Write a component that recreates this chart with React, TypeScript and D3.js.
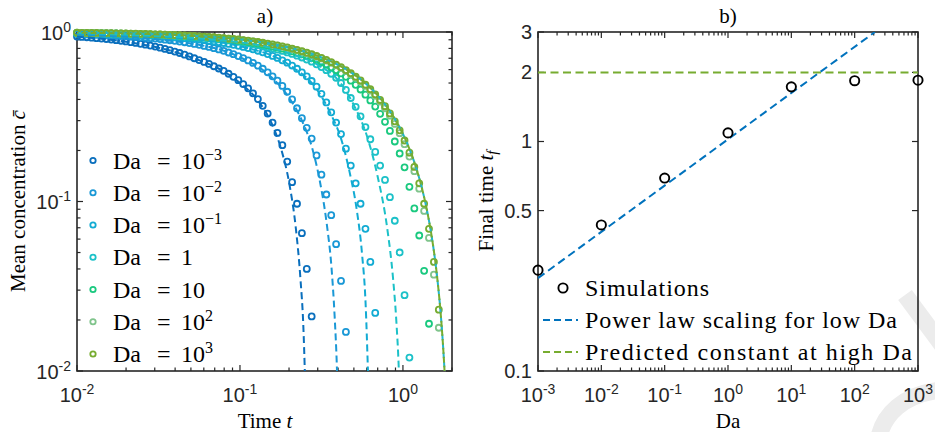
import { useEffect, useRef } from 'react';
import * as d3 from 'd3';

// panel a) sample times shared by the simulation runs
const timeSamples = [
  0.01, 0.01072, 0.01148, 0.0123, 0.01318, 0.01413, 0.01514, 0.01622, 0.01738, 0.01862,
  0.01995, 0.02138, 0.02291, 0.02455, 0.0263, 0.02818, 0.0302, 0.03236, 0.03467, 0.03715,
  0.03981, 0.04266, 0.04571, 0.04898, 0.05248, 0.05623, 0.06026, 0.06457, 0.06918, 0.07413,
  0.07943, 0.08511, 0.0912, 0.09772, 0.1047, 0.1122, 0.1202, 0.1288, 0.138, 0.1479,
  0.1585, 0.1698, 0.182, 0.195, 0.2089, 0.2239, 0.2399, 0.257, 0.2754, 0.2951,
  0.3162, 0.3388, 0.3631, 0.389, 0.4169, 0.4467, 0.4786, 0.5129, 0.5495, 0.5888,
  0.631, 0.6761, 0.7244, 0.7762, 0.8318, 0.8913, 0.955, 1.023, 1.096, 1.175,
  1.259, 1.349, 1.445, 1.549, 1.66,
];

// mean concentration for each Da (same index as timeSamples)
const concDa1em3 = [
  0.94, 0.935, 0.931, 0.926, 0.92, 0.915, 0.909, 0.902, 0.895, 0.888,
  0.88, 0.871, 0.862, 0.852, 0.842, 0.832, 0.82, 0.808, 0.795, 0.781,
  0.767, 0.752, 0.735, 0.718, 0.7, 0.683, 0.666, 0.648, 0.628, 0.609,
  0.59, 0.567, 0.544, 0.52, 0.493, 0.465, 0.435, 0.402, 0.367, 0.33,
  0.292, 0.254, 0.215, 0.172, 0.13, 0.097, 0.065, 0.04, 0.021,
];
const concDa1em2 = [
  0.972, 0.969, 0.967, 0.965, 0.962, 0.96, 0.957, 0.954, 0.95, 0.947,
  0.943, 0.939, 0.935, 0.93, 0.925, 0.92, 0.914, 0.908, 0.901, 0.894,
  0.887, 0.878, 0.87, 0.86, 0.85, 0.84, 0.828, 0.816, 0.803, 0.789,
  0.774, 0.757, 0.74, 0.721, 0.702, 0.68, 0.657, 0.633, 0.607, 0.578,
  0.548, 0.516, 0.481, 0.444, 0.4, 0.355, 0.31, 0.272, 0.235, 0.187,
  0.144, 0.11, 0.083, 0.056, 0.034, 0.017,
];
const concDa1em1 = [
  0.983, 0.981, 0.98, 0.978, 0.977, 0.975, 0.974, 0.972, 0.97, 0.967,
  0.965, 0.963, 0.96, 0.957, 0.954, 0.951, 0.947, 0.943, 0.939, 0.935,
  0.93, 0.925, 0.92, 0.914, 0.908, 0.902, 0.895, 0.887, 0.879, 0.87,
  0.861, 0.851, 0.84, 0.829, 0.817, 0.804, 0.79, 0.775, 0.759, 0.741,
  0.723, 0.703, 0.681, 0.659, 0.634, 0.607, 0.578, 0.548, 0.514, 0.476,
  0.432, 0.384, 0.336, 0.292, 0.25, 0.205, 0.163, 0.128, 0.097, 0.069,
  0.044, 0.022,
];
const concDa1 = [
  0.987, 0.986, 0.985, 0.984, 0.983, 0.982, 0.98, 0.979, 0.977, 0.975,
  0.974, 0.972, 0.97, 0.968, 0.966, 0.963, 0.961, 0.958, 0.955, 0.952,
  0.948, 0.945, 0.941, 0.937, 0.932, 0.928, 0.923, 0.917, 0.912, 0.905,
  0.899, 0.892, 0.884, 0.876, 0.867, 0.858, 0.848, 0.837, 0.826, 0.814,
  0.801, 0.787, 0.773, 0.758, 0.742, 0.725, 0.707, 0.688, 0.668, 0.645,
  0.621, 0.595, 0.567, 0.537, 0.5, 0.455, 0.408, 0.362, 0.318, 0.275,
  0.233, 0.196, 0.163, 0.134, 0.106, 0.077, 0.05, 0.028, 0.012,
];
const concDa10 = [
  0.988, 0.987, 0.987, 0.986, 0.985, 0.984, 0.982, 0.981, 0.98, 0.978,
  0.977, 0.975, 0.973, 0.971, 0.969, 0.967, 0.965, 0.962, 0.96, 0.957,
  0.954, 0.951, 0.947, 0.943, 0.939, 0.935, 0.93, 0.926, 0.92, 0.915,
  0.909, 0.902, 0.896, 0.888, 0.881, 0.872, 0.864, 0.854, 0.844, 0.834,
  0.822, 0.81, 0.797, 0.784, 0.769, 0.754, 0.738, 0.721, 0.702, 0.683,
  0.663, 0.641, 0.618, 0.595, 0.57, 0.544, 0.516, 0.488, 0.458, 0.427,
  0.395, 0.363, 0.329, 0.295, 0.261, 0.226, 0.192, 0.159, 0.122, 0.091,
  0.063, 0.039, 0.019,
];
const concDa100 = [
  0.99, 0.989, 0.988, 0.987, 0.986, 0.985, 0.984, 0.983, 0.982, 0.981,
  0.979, 0.978, 0.976, 0.975, 0.973, 0.971, 0.969, 0.967, 0.964, 0.962,
  0.959, 0.956, 0.953, 0.95, 0.946, 0.942, 0.938, 0.934, 0.929, 0.924,
  0.919, 0.913, 0.907, 0.901, 0.894, 0.887, 0.879, 0.87, 0.861, 0.852,
  0.842, 0.831, 0.819, 0.807, 0.794, 0.78, 0.766, 0.75, 0.734, 0.716,
  0.698, 0.678, 0.658, 0.636, 0.613, 0.589, 0.564, 0.537, 0.51, 0.481,
  0.451, 0.42, 0.388, 0.355, 0.321, 0.287, 0.253, 0.218, 0.184, 0.151,
  0.119, 0.088, 0.061, 0.037, 0.018,
];
const concDa1000 = [
  0.99, 0.989, 0.988, 0.987, 0.987, 0.986, 0.985, 0.984, 0.982, 0.981,
  0.98, 0.978, 0.977, 0.975, 0.973, 0.971, 0.969, 0.967, 0.965, 0.962,
  0.96, 0.957, 0.954, 0.951, 0.947, 0.943, 0.939, 0.935, 0.931, 0.926,
  0.921, 0.915, 0.909, 0.903, 0.896, 0.889, 0.881, 0.873, 0.864, 0.855,
  0.845, 0.834, 0.823, 0.811, 0.798, 0.785, 0.77, 0.755, 0.739, 0.722,
  0.703, 0.684, 0.664, 0.642, 0.62, 0.596, 0.571, 0.545, 0.518, 0.489,
  0.46, 0.429, 0.397, 0.365, 0.331, 0.297, 0.263, 0.229, 0.194, 0.16,
  0.128, 0.097, 0.069, 0.044, 0.023,
];

const seriesConc = [concDa1em3, concDa1em2, concDa1em1, concDa1, concDa10, concDa100, concDa1000];
const seriesColors = ['#0a6fbd', '#1a98d6', '#12abd3', '#1cc1c8', '#1ac97f', '#80c48c', '#77ac30'];
const legendBase = ['10', '10', '10', '1', '10', '10', '10'];
const legendExp = ['\u22123', '\u22122', '\u22121', '', '', '2', '3'];

// dashed predictions, [t, c]
const fitDa1em3 = [
  [0.01, 0.94], [0.05, 0.71], [0.1, 0.5], [0.13, 0.39], [0.16, 0.275], [0.18, 0.2],
  [0.2, 0.13], [0.22, 0.07], [0.235, 0.035], [0.245, 0.018], [0.25, 0.01], [0.255, 0.005],
];
const fitDa1em2 = [
  [0.01, 0.965], [0.05, 0.855], [0.1, 0.71], [0.15, 0.56], [0.2, 0.41], [0.24, 0.3], [0.28, 0.2],
  [0.31, 0.13], [0.34, 0.075], [0.365, 0.04], [0.38, 0.022], [0.394, 0.01], [0.4, 0.006],
];
const fitDa1em1 = [
  [0.01, 0.98], [0.05, 0.91], [0.1, 0.825], [0.2, 0.64], [0.3, 0.45], [0.36, 0.33], [0.42, 0.23],
  [0.47, 0.15], [0.52, 0.09], [0.56, 0.05], [0.59, 0.025], [0.61, 0.01], [0.62, 0.006],
];
const fitDa1 = [
  [0.01, 0.987], [0.1, 0.87], [0.2, 0.75], [0.3, 0.64], [0.4, 0.52], [0.5, 0.37], [0.6, 0.245],
  [0.7, 0.14], [0.8, 0.07], [0.87, 0.035], [0.91, 0.02], [0.944, 0.01], [0.96, 0.006],
];
const fitLargeDa = [
  [0.01, 0.99], [0.02, 0.98], [0.04, 0.96], [0.07, 0.931], [0.1, 0.9025], [0.15, 0.856], [0.2, 0.81],
  [0.3, 0.7225], [0.4, 0.64], [0.5, 0.5625], [0.6, 0.49], [0.7, 0.4225], [0.8, 0.36], [0.9, 0.3025],
  [1.0, 0.25], [1.1, 0.2025], [1.2, 0.16], [1.3, 0.1225], [1.4, 0.09], [1.5, 0.0625], [1.6, 0.04],
  [1.7, 0.0225], [1.75, 0.0156], [1.8, 0.01], [1.82, 0.0081],
];
const fitCurves = [fitDa1em3, fitDa1em2, fitDa1em1, fitDa1];

// panel b)
const daValues = [1e-3, 1e-2, 1e-1, 1, 10, 100, 1000];
const finalTimes = [0.275, 0.433, 0.693, 1.09, 1.73, 1.84, 1.85];
const powerLawDa = [1e-3, 209];
const powerLawTime = [0.254, 3];
const constantDa = [1e-3, 1e3];
const constantTime = [2, 2];
const rightYTicks = [0.1, 0.5, 1, 2, 3];
const rightLegendLabels = ['Simulations', 'Power law scaling for low Da', 'Predicted constant at high Da'];

const axisColor = '#262626';
const serif = '"Liberation Serif", "Times New Roman", serif';
const sans = '"Liberation Sans", Arial, Helvetica, sans-serif';
const blue = '#0072bd';
const green = '#77ac30';

const isDecade = (v) => Math.abs(Math.log10(v) - Math.round(Math.log10(v))) < 1e-6;

function drawFrame(g, x, y, xTicks, yTicks, yMajor) {
  const [x0, x1] = x.range();
  const [y0, y1] = y.range();
  g.append('rect')
    .attr('x', x0).attr('y', y1)
    .attr('width', x1 - x0).attr('height', y0 - y1)
    .attr('fill', 'none').attr('stroke', axisColor).attr('stroke-width', 1.6);

  const t = g.append('g').attr('stroke', axisColor).attr('stroke-width', 1.2);
  const lenX = (v) => (isDecade(v) ? 6 : 3.5);
  const lenY = (v) => (yMajor(v) ? 6 : 3.5);
  t.selectAll('.xb').data(xTicks).enter().append('line')
    .attr('x1', (d) => x(d)).attr('x2', (d) => x(d)).attr('y1', y0).attr('y2', (d) => y0 - lenX(d));
  t.selectAll('.xt').data(xTicks).enter().append('line')
    .attr('x1', (d) => x(d)).attr('x2', (d) => x(d)).attr('y1', y1).attr('y2', (d) => y1 + lenX(d));
  t.selectAll('.yl').data(yTicks).enter().append('line')
    .attr('y1', (d) => y(d)).attr('y2', (d) => y(d)).attr('x1', x0).attr('x2', (d) => x0 + lenY(d));
  t.selectAll('.yr').data(yTicks).enter().append('line')
    .attr('y1', (d) => y(d)).attr('y2', (d) => y(d)).attr('x1', x1).attr('x2', (d) => x1 - lenY(d));
}

function powerLabel(g, x, y, anchor, v) {
  const e = Math.round(Math.log10(v));
  const txt = g.append('text')
    .attr('x', x).attr('y', y)
    .attr('text-anchor', anchor)
    .attr('font-family', sans).attr('font-size', 20).attr('fill', axisColor);
  txt.append('tspan').text('10');
  txt.append('tspan').attr('dy', -8).attr('font-size', 14).text(e < 0 ? `-${-e}` : `${e}`);
}

const App = () => {
  const svgRef = useRef(null);

  useEffect(() => {
    const svg = d3.select(svgRef.current);
    svg.selectAll('*').remove();

    // faint watermark in the bottom-right corner
    const wm = svg.append('g').attr('fill', 'none').attr('stroke', '#ececec').attr('stroke-width', 17);
    wm.append('path').attr('d', 'M905,295 L942,345');
    wm.append('path').attr('d', 'M878,442 C882,414 904,394 942,390');

    const xa = d3.scaleLog().domain([0.01, 2]).range([77, 452]);
    const ya = d3.scaleLog().domain([0.01, 1]).range([371, 32]);
    const xb = d3.scaleLog().domain([1e-3, 1e3]).range([538, 918]);
    const yb = d3.scaleLog().domain([0.1, 3]).range([371, 32]);

    const defs = svg.append('defs');
    defs.append('clipPath').attr('id', 'clipA').append('rect')
      .attr('x', 77).attr('y', 32).attr('width', 375).attr('height', 339);
    defs.append('clipPath').attr('id', 'clipB').append('rect')
      .attr('x', 538).attr('y', 32).attr('width', 380).attr('height', 339);

    // ---------- panel a ----------
    const ga = svg.append('g');
    drawFrame(ga, xa, ya, xa.ticks(), ya.ticks(), isDecade);

    [0.01, 0.1, 1].forEach((v) => powerLabel(ga, xa(v), 402, 'middle', v));
    [0.01, 0.1, 1].forEach((v) => powerLabel(ga, 71, ya(v) + 7.5, 'end', v));

    seriesConc.forEach((conc, i) => {
      ga.append('g')
        .selectAll('circle')
        .data(conc)
        .enter()
        .append('circle')
        .attr('cx', (d, k) => xa(timeSamples[k]))
        .attr('cy', (d) => ya(d))
        .attr('r', 3)
        .attr('fill', 'none')
        .attr('stroke', seriesColors[i])
        .attr('stroke-width', 1.8);
    });

    const lineA = d3.line()
      .x((d) => xa(d[0]))
      .y((d) => ya(d[1]))
      .curve(d3.curveMonotoneX);
    const fitsG = ga.append('g').attr('clip-path', 'url(#clipA)').attr('fill', 'none').attr('stroke-width', 2);
    fitCurves.forEach((pts, i) => {
      fitsG.append('path').attr('d', lineA(pts)).attr('stroke', seriesColors[i]).attr('stroke-dasharray', '7 4');
    });
    fitsG.append('path').attr('d', lineA(fitLargeDa)).attr('stroke', '#22b6cb').attr('stroke-dasharray', '6 3');
    fitsG.append('path').attr('d', lineA(fitLargeDa)).attr('stroke', seriesColors[6])
      .attr('stroke-dasharray', '6 3').attr('stroke-dashoffset', 4.5);

    // legend a
    const legA = svg.append('g');
    seriesColors.forEach((col, i) => {
      const cy = 160.5 + i * 32.25;
      legA.append('circle').attr('cx', 93).attr('cy', cy).attr('r', 2.7)
        .attr('fill', 'none').attr('stroke', col).attr('stroke-width', 1.8);
      const t = legA.append('text').attr('y', cy + 8)
        .attr('font-family', serif).attr('font-size', 24).attr('fill', '#000');
      t.append('tspan').attr('x', 113).text('Da');
      t.append('tspan').attr('x', 157).text('=');
      t.append('tspan').attr('x', 181).text(legendBase[i]);
      if (legendExp[i]) {
        t.append('tspan').attr('x', 205).attr('dy', -9).attr('font-size', 16).text(legendExp[i]);
      }
    });

    // labels a
    svg.append('text').attr('x', 265).attr('y', 23).attr('text-anchor', 'middle')
      .attr('font-family', serif).attr('font-size', 21).text('a)');
    const tl = svg.append('text').attr('x', 265).attr('y', 428).attr('text-anchor', 'middle')
      .attr('font-family', serif).attr('font-size', 21);
    tl.append('tspan').text('Time ');
    tl.append('tspan').attr('font-style', 'italic').text('t');
    const yl = svg.append('text').attr('transform', 'translate(25,201) rotate(-90)').attr('text-anchor', 'middle')
      .attr('font-family', serif).attr('font-size', 21);
    yl.append('tspan').text('Mean concentration ');
    yl.append('tspan').attr('font-style', 'italic').text('c\u0304');

    // ---------- panel b ----------
    const gb = svg.append('g');
    drawFrame(gb, xb, yb, xb.ticks(), rightYTicks, () => true);

    [1e-3, 1e-2, 1e-1, 1, 10, 100, 1000].forEach((v) => powerLabel(gb, xb(v), 402, 'middle', v));
    gb.selectAll('.ylab').data(rightYTicks).enter().append('text')
      .attr('x', 532).attr('y', (d) => yb(d) + 7)
      .attr('text-anchor', 'end')
      .attr('font-family', sans).attr('font-size', 20).attr('fill', axisColor)
      .text((d) => `${d}`);

    const lineB = d3.line()
      .x((d) => xb(d[0]))
      .y((d) => yb(d[1]));
    const linesB = gb.append('g').attr('clip-path', 'url(#clipB)').attr('fill', 'none').attr('stroke-width', 2);
    linesB.append('path').attr('d', lineB(constantDa.map((d, i) => [d, constantTime[i]])))
      .attr('stroke', green).attr('stroke-dasharray', '8 4.5');
    linesB.append('path').attr('d', lineB(powerLawDa.map((d, i) => [d, powerLawTime[i]])))
      .attr('stroke', blue).attr('stroke-dasharray', '8 4.5');

    gb.append('g').selectAll('circle').data(daValues).enter().append('circle')
      .attr('cx', (d) => xb(d))
      .attr('cy', (d, i) => yb(finalTimes[i]))
      .attr('r', 4.6)
      .attr('fill', 'none').attr('stroke', '#000').attr('stroke-width', 1.9);

    // legend b
    const legB = svg.append('g');
    const rows = [288, 320, 352];
    legB.append('circle').attr('cx', 563).attr('cy', rows[0]).attr('r', 4.6)
      .attr('fill', 'none').attr('stroke', '#000').attr('stroke-width', 1.9);
    legB.append('line').attr('x1', 543).attr('x2', 578).attr('y1', rows[1]).attr('y2', rows[1])
      .attr('stroke', blue).attr('stroke-width', 2).attr('stroke-dasharray', '7 4');
    legB.append('line').attr('x1', 543).attr('x2', 578).attr('y1', rows[2]).attr('y2', rows[2])
      .attr('stroke', green).attr('stroke-width', 2).attr('stroke-dasharray', '7 4');
    const legLen = [124, 312, 327];
    rightLegendLabels.forEach((lab, i) => {
      legB.append('text').attr('x', 585).attr('y', rows[i] + 8)
        .attr('font-family', serif).attr('font-size', 24).attr('fill', '#000')
        .attr('textLength', legLen[i]).attr('lengthAdjust', 'spacing')
        .text(lab);
    });

    // labels b
    svg.append('text').attr('x', 728).attr('y', 23).attr('text-anchor', 'middle')
      .attr('font-family', serif).attr('font-size', 21).text('b)');
    svg.append('text').attr('x', 728).attr('y', 428).attr('text-anchor', 'middle')
      .attr('font-family', serif).attr('font-size', 21).text('Da');
    const ylb = svg.append('text').attr('transform', 'translate(493,201) rotate(-90)').attr('text-anchor', 'middle')
      .attr('font-family', serif).attr('font-size', 21);
    ylb.append('tspan').text('Final time ');
    ylb.append('tspan').attr('font-style', 'italic').text('t');
    ylb.append('tspan').attr('font-style', 'italic').attr('font-size', 15).attr('dy', 4).text('f');
  }, []);

  return (
    <svg
      ref={svgRef}
      width={935}
      height={432}
      style={{ position: 'absolute', left: 0, top: 0, background: '#fff' }}
    />
  );
};

export default App;
